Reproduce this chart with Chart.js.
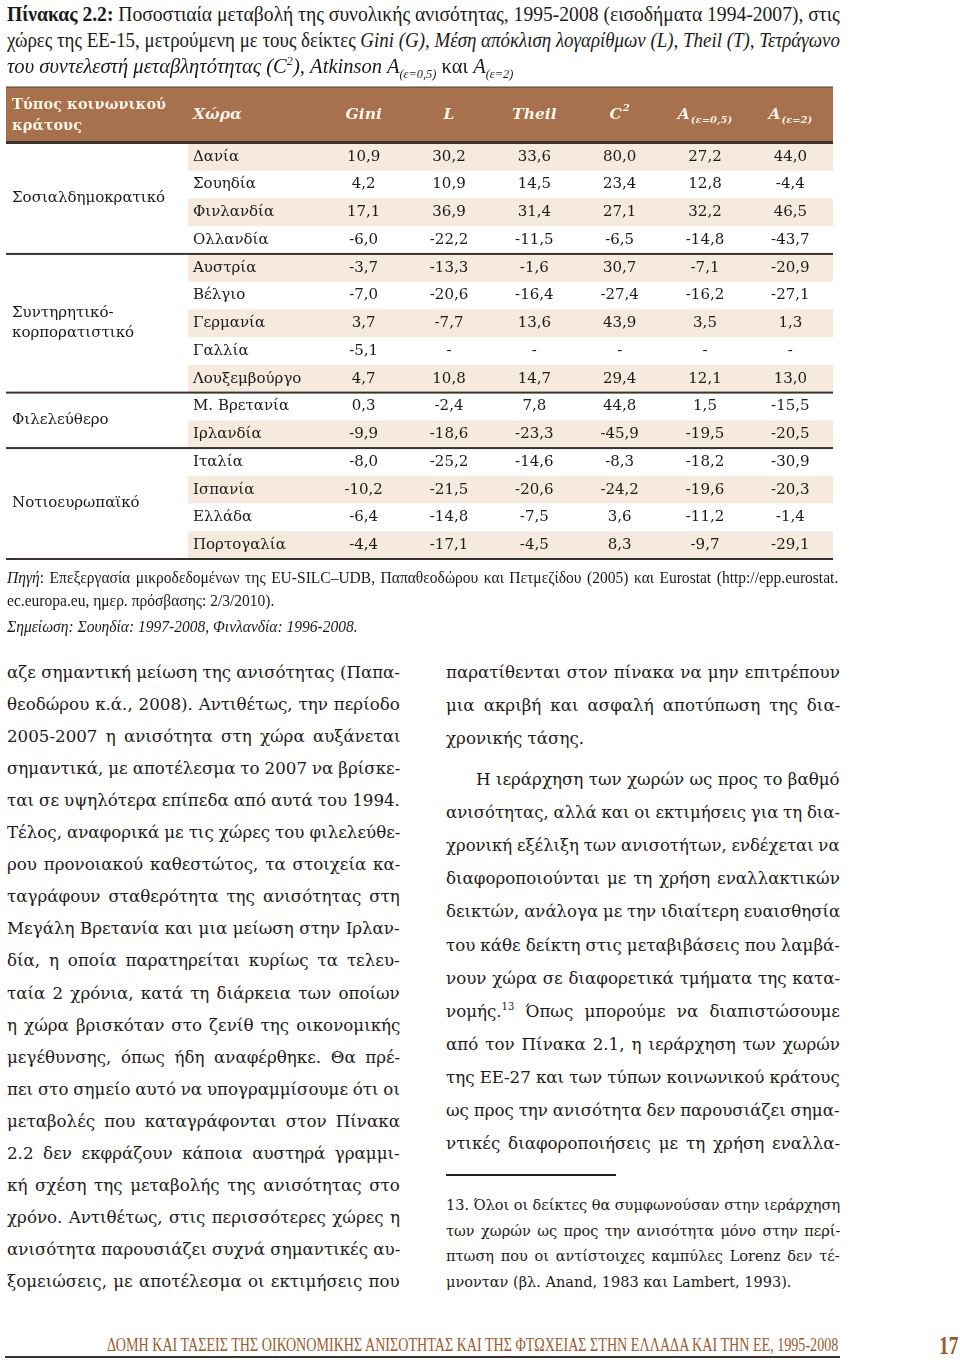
<!DOCTYPE html>
<html lang="el">
<head>
<meta charset="utf-8">
<title>Πίνακας 2.2</title>
<script src="https://cdn.jsdelivr.net/npm/chart.js@4.4.1/dist/chart.umd.min.js"></script>
<style>
  html, body { margin: 0; padding: 0; background: #fff; }
  body { width: 960px; height: 1362px; position: relative; overflow: hidden; color: #1c1a18; }
  .ln { position: absolute; white-space: nowrap; line-height: 24px; transform-origin: 0 50%; }
  .ttl { font-family: 'Liberation Serif', serif; font-size: 21px; }
  .note { font-family: 'Liberation Serif', serif; font-size: 16px; }
  .txt { font-family: 'DejaVu Serif', serif; font-size: 17px; }
  .fn { font-family: 'DejaVu Serif', serif; font-size: 14.5px; }
  .foot { font-family: 'Liberation Serif', serif; font-size: 18px; color: #9c5a2c; }
  sub, sup { font-size: 0.6em; line-height: 0; }
  #table { position: absolute; left: 0; top: 80px; }
  .rule { position: absolute; }
  #page { position: absolute; left: 939px; top: 1333px; font-family: 'Liberation Serif', serif; font-weight: bold;
      font-size: 25px; line-height: 26px; color: #9c5a2c; transform: scaleX(0.78); transform-origin: 0 0; }
</style>
</head>
<body>
<canvas id="table" width="960" height="490"></canvas>
<div class="rule" style="left:446px; top:1174px; width:170px; height:1.5px; background:#222;"></div>
<div class="rule" style="left:5px; top:1356px; width:835px; height:2px; background:#3a3330;"></div>
<div id="page">17</div>
<script>
// table data
const countries = ['Δανία', 'Σουηδία', 'Φινλανδία', 'Ολλανδία', 'Αυστρία', 'Βέλγιο', 'Γερμανία', 'Γαλλία',
    'Λουξεμβούργο', 'Μ. Βρετανία', 'Ιρλανδία', 'Ιταλία', 'Ισπανία', 'Ελλάδα', 'Πορτογαλία'];
const welfareTypes = ['Σοσιαλδημοκρατικό', 'Συντηρητικό-|κορπορατιστικό', 'Φιλελεύθερο', 'Νοτιοευρωπαϊκό'];
const typeSizes = [4, 5, 2, 4];
const indicators = ['Gini', 'L', 'Theil', 'C2', 'A05', 'A2'];
const headMain = ['Gini', 'L', 'Theil', 'C', 'A', 'A'];
const headSup = ['', '', '', '2', '', ''];
const headSub = ['', '', '', '', '(ε=0,5)', '(ε=2)'];

const gini = [10.9, 4.2, 17.1, -6.0, -3.7, -7.0, 3.7, -5.1, 4.7, 0.3, -9.9, -8.0, -10.2, -6.4, -4.4];
const meanLogDev = [30.2, 10.9, 36.9, -22.2, -13.3, -20.6, -7.7, null, 10.8, -2.4, -18.6, -25.2, -21.5, -14.8, -17.1];
const theil = [33.6, 14.5, 31.4, -11.5, -1.6, -16.4, 13.6, null, 14.7, 7.8, -23.3, -14.6, -20.6, -7.5, -4.5];
const cv2 = [80.0, 23.4, 27.1, -6.5, 30.7, -27.4, 43.9, null, 29.4, 44.8, -45.9, -8.3, -24.2, 3.6, 8.3];
const atk05 = [27.2, 12.8, 32.2, -14.8, -7.1, -16.2, 3.5, null, 12.1, 1.5, -19.5, -18.2, -19.6, -11.2, -9.7];
const atk2 = [44.0, -4.4, 46.5, -43.7, -20.9, -27.1, 1.3, null, 13.0, -15.5, -20.5, -30.9, -20.3, -1.4, -29.1];
const series = [gini, meanLogDev, theil, cv2, atk05, atk2];

const SERIF = "'DejaVu Serif', serif";

const tablePlugin = {
    id: 'tableCells',
    beforeDatasetsDraw(chart) {
        const { ctx, scales: { x, y } } = chart;
        const row = y.getPixelForValue(1) - y.getPixelForValue(0);
        const left = 6;
        const countryLeft = x.left - 133;
        ctx.save();
        // header band
        ctx.fillStyle = '#a6714c';
        ctx.fillRect(left, y.top - 2 * row, x.right - left, 2 * row);
        ctx.fillStyle = '#4a3526';
        ctx.fillRect(left, y.top - 2 * row - 1, x.right - left, 1.2);
        // shaded rows
        ctx.fillStyle = '#f6eadf';
        countries.forEach((c, i) => {
            if (i % 2 === 0) {
                const py = y.getPixelForValue(i);
                ctx.fillRect(countryLeft, py - row / 2, x.right - countryLeft, row);
            }
        });
        // rules
        ctx.fillStyle = '#3a3330';
        ctx.fillRect(left, y.top - 2, x.right - left, 3);
        let start = 0;
        typeSizes.forEach((n) => {
            const end = start + n - 1;
            const by = y.getPixelForValue(end) + row / 2;
            ctx.fillRect(left, by - 1, x.right - left, 2);
            start += n;
        });
        ctx.restore();
    },
    afterDatasetsDraw(chart) {
        const { ctx, scales: { x, y } } = chart;
        const row = y.getPixelForValue(1) - y.getPixelForValue(0);
        const countryLeft = x.left - 133;
        const headY = y.top - row;
        ctx.save();
        ctx.textBaseline = 'middle';

        // header
        ctx.fillStyle = '#fdf3e6';
        ctx.textAlign = 'left';
        ctx.font = 'bold 14.5px ' + SERIF;
        ctx.fillText('Τύπος κοινωνικού', 12, headY - 10.5);
        ctx.fillText('κράτους', 12, headY + 10.5);
        ctx.font = 'italic bold 15.5px ' + SERIF;
        ctx.fillText('Χώρα', countryLeft + 5, headY);
        indicators.forEach((key, k) => {
            const cx = x.getPixelForValue(k);
            ctx.font = 'italic bold 15.5px ' + SERIF;
            const wMain = ctx.measureText(headMain[k]).width;
            ctx.font = 'italic bold 10px ' + SERIF;
            const extra = headSup[k] || headSub[k];
            const wExtra = extra ? ctx.measureText(extra).width + 1 : 0;
            const x0 = cx - (wMain + wExtra) / 2;
            ctx.textAlign = 'left';
            ctx.font = 'italic bold 15.5px ' + SERIF;
            ctx.fillText(headMain[k], x0, headY);
            ctx.font = 'italic bold 10px ' + SERIF;
            if (headSup[k]) ctx.fillText(headSup[k], x0 + wMain + 1, headY - 7);
            if (headSub[k]) ctx.fillText(headSub[k], x0 + wMain + 1, headY + 5);
        });

        // welfare state types
        ctx.fillStyle = '#1c1a18';
        ctx.font = '15px ' + SERIF;
        ctx.textAlign = 'left';
        let start = 0;
        welfareTypes.forEach((label, g) => {
            const end = start + typeSizes[g] - 1;
            const cy = (y.getPixelForValue(start) + y.getPixelForValue(end)) / 2;
            const parts = label.split('|');
            parts.forEach((p, k) => {
                ctx.fillText(p, 12, cy + (k - (parts.length - 1) / 2) * 20);
            });
            start += typeSizes[g];
        });

        // countries
        countries.forEach((c, i) => {
            ctx.fillText(c, countryLeft + 5, y.getPixelForValue(i));
        });

        // values
        ctx.textAlign = 'center';
        chart.data.datasets.forEach((ds, di) => {
            const meta = chart.getDatasetMeta(di);
            meta.data.forEach((pt, i) => {
                const v = ds.data[i].v;
                const text = v === null ? '-' : v.toFixed(1).replace('.', ',');
                ctx.fillText(text, pt.x, pt.y);
            });
        });
        ctx.restore();
    }
};

new Chart(document.getElementById('table'), {
    type: 'scatter',
    data: {
        datasets: indicators.map((key, k) => ({
            label: key,
            data: countries.map((c, i) => ({ x: key, y: c, v: series[k][i] })),
            pointRadius: 0,
            pointHoverRadius: 0,
        })),
    },
    options: {
        responsive: false,
        animation: false,
        events: [],
        layout: { padding: { left: 321, right: 127, top: 63, bottom: 11 } },
        scales: {
            x: { type: 'category', labels: indicators, offset: true, display: false },
            y: { type: 'category', labels: countries, offset: true, display: false },
        },
        plugins: { legend: { display: false }, tooltip: { enabled: false } },
    },
    plugins: [tablePlugin],
});

// page text, one entry per printed line: [html, justified, indent]
const titleLines = [
    ['<b>Πίνακας 2.2:</b> Ποσοστιαία μεταβολή της συνολικής ανισότητας, 1995-2008 (εισοδήματα 1994-2007), στις', 1],
    ['χώρες της ΕΕ-15, μετρούμενη με τους δείκτες <i>Gini (G), Μέση απόκλιση λογαρίθμων (L), Theil (T), Τετράγωνο</i>', 1],
    ['<i>του συντελεστή μεταβλητότητας (C<sup>2</sup>), Atkinson A<sub>(ε=0,5)</sub></i> και <i>A<sub>(ε=2)</sub></i>', 0],
];
const noteLines = [
    ['<i>Πηγή</i>: Επεξεργασία μικροδεδομένων της EU-SILC–UDB, Παπαθεοδώρου και Πετμεζίδου (2005) και Eurostat (http://epp.eurostat.', 1],
    ['ec.europa.eu, ημερ. πρόσβασης: 2/3/2010).', 0],
    ['<i>Σημείωση: Σουηδία: 1997-2008, Φινλανδία: 1996-2008.</i>', 0],
];
const leftLines = [
    ['αζε σημαντική μείωση της ανισότητας (Παπα-', 1],
    ['θεοδώρου κ.ά., 2008). Αντιθέτως, την περίοδο', 1],
    ['2005-2007 η ανισότητα στη χώρα αυξάνεται', 1],
    ['σημαντικά, με αποτέλεσμα το 2007 να βρίσκε-', 1],
    ['ται σε υψηλότερα επίπεδα από αυτά του 1994.', 1],
    ['Τέλος, αναφορικά με τις χώρες του φιλελεύθε-', 1],
    ['ρου προνοιακού καθεστώτος, τα στοιχεία κα-', 1],
    ['ταγράφουν σταθερότητα της ανισότητας στη', 1],
    ['Μεγάλη Βρετανία και μια μείωση στην Ιρλαν-', 1],
    ['δία, η οποία παρατηρείται κυρίως τα τελευ-', 1],
    ['ταία 2 χρόνια, κατά τη διάρκεια των οποίων', 1],
    ['η χώρα βρισκόταν στο ζενίθ της οικονομικής', 1],
    ['μεγέθυνσης, όπως ήδη αναφέρθηκε. Θα πρέ-', 1],
    ['πει στο σημείο αυτό να υπογραμμίσουμε ότι οι', 1],
    ['μεταβολές που καταγράφονται στον Πίνακα', 1],
    ['2.2 δεν εκφράζουν κάποια αυστηρά γραμμι-', 1],
    ['κή σχέση της μεταβολής της ανισότητας στο', 1],
    ['χρόνο. Αντιθέτως, στις περισσότερες χώρες η', 1],
    ['ανισότητα παρουσιάζει συχνά σημαντικές αυ-', 1],
    ['ξομειώσεις, με αποτέλεσμα οι εκτιμήσεις που', 1],
];
const rightLinesA = [
    ['παρατίθενται στον πίνακα να μην επιτρέπουν', 1],
    ['μια ακριβή και ασφαλή αποτύπωση της δια-', 1],
    ['χρονικής τάσης.', 0],
];
const rightLinesB = [
    ['Η ιεράρχηση των χωρών ως προς το βαθμό', 1, 30],
    ['ανισότητας, αλλά και οι εκτιμήσεις για τη δια-', 1],
    ['χρονική εξέλιξη των ανισοτήτων, ενδέχεται να', 1],
    ['διαφοροποιούνται με τη χρήση εναλλακτικών', 1],
    ['δεικτών, ανάλογα με την ιδιαίτερη ευαισθησία', 1],
    ['του κάθε δείκτη στις μεταβιβάσεις που λαμβά-', 1],
    ['νουν χώρα σε διαφορετικά τμήματα της κατα-', 1],
    ['νομής.<sup>13</sup> Όπως μπορούμε να διαπιστώσουμε', 1],
    ['από τον Πίνακα 2.1, η ιεράρχηση των χωρών', 1],
    ['της ΕΕ-27 και των τύπων κοινωνικού κράτους', 1],
    ['ως προς την ανισότητα δεν παρουσιάζει σημα-', 1],
    ['ντικές διαφοροποιήσεις με τη χρήση εναλλα-', 1],
];
const footnoteLines = [
    ['13. Όλοι οι δείκτες θα συμφωνούσαν στην ιεράρχηση', 1],
    ['των χωρών ως προς την ανισότητα μόνο στην περί-', 1],
    ['πτωση που οι αντίστοιχες καμπύλες Lorenz δεν τέ-', 1],
    ['μνονταν (βλ. Anand, 1983 και Lambert, 1993).', 0],
];

// each justified line gets word spacing to fill its width; a line whose natural
// width would need spacing below minWs is narrowed a little instead
function addLines(lines, cls, x, ys, width, baseScale, minWs) {
    lines.forEach(([html, justify, indent = 0], i) => {
        const el = document.createElement('div');
        el.className = 'ln ' + cls;
        el.innerHTML = html;
        el.style.left = (x + indent) + 'px';
        el.style.top = (ys(i) - 12) + 'px';
        document.body.appendChild(el);
        const natural = el.offsetWidth;
        const spaces = (el.textContent.match(/ /g) || []).length;
        let scale = baseScale;
        if (justify && spaces) {
            const target = width - indent;
            if (target / scale - natural < minWs * spaces) {
                scale = target / (natural + minWs * spaces);
            }
            el.style.wordSpacing = ((target / scale - natural) / spaces) + 'px';
        }
        el.style.transform = `scaleX(${scale})`;
    });
}

const step = (y0, dy) => (i) => y0 + i * dy;
addLines(titleLines, 'ttl', 7, step(14, 26), 833, 0.98, 0);
addLines(noteLines, 'note', 7, (i) => [578, 601, 627][i], 831, 0.97, 0);
addLines(leftLines, 'txt', 7, step(672, 32.05), 393, 0.98, -0.5);
addLines(rightLinesA, 'txt', 446, step(672, 33), 394, 0.98, -0.5);
addLines(rightLinesB, 'txt', 446, step(779, 33.1), 394, 0.98, -0.5);
addLines(footnoteLines, 'fn', 446, step(1205, 25.7), 394, 1, -0.5);

// running footer, stretched to its printed width
const foot = document.createElement('div');
foot.className = 'ln foot';
foot.textContent = 'ΔΟΜΗ ΚΑΙ ΤΑΣΕΙΣ ΤΗΣ ΟΙΚΟΝΟΜΙΚΗΣ ΑΝΙΣΟΤΗΤΑΣ ΚΑΙ ΤΗΣ ΦΤΩΧΕΙΑΣ ΣΤΗΝ ΕΛΛΑΔΑ ΚΑΙ ΤΗΝ ΕΕ, 1995-2008';
foot.style.left = '107px';
foot.style.top = (1345 - 12) + 'px';
document.body.appendChild(foot);
foot.style.transform = `scaleX(${731 / foot.offsetWidth})`;
</script>
</body>
</html>
